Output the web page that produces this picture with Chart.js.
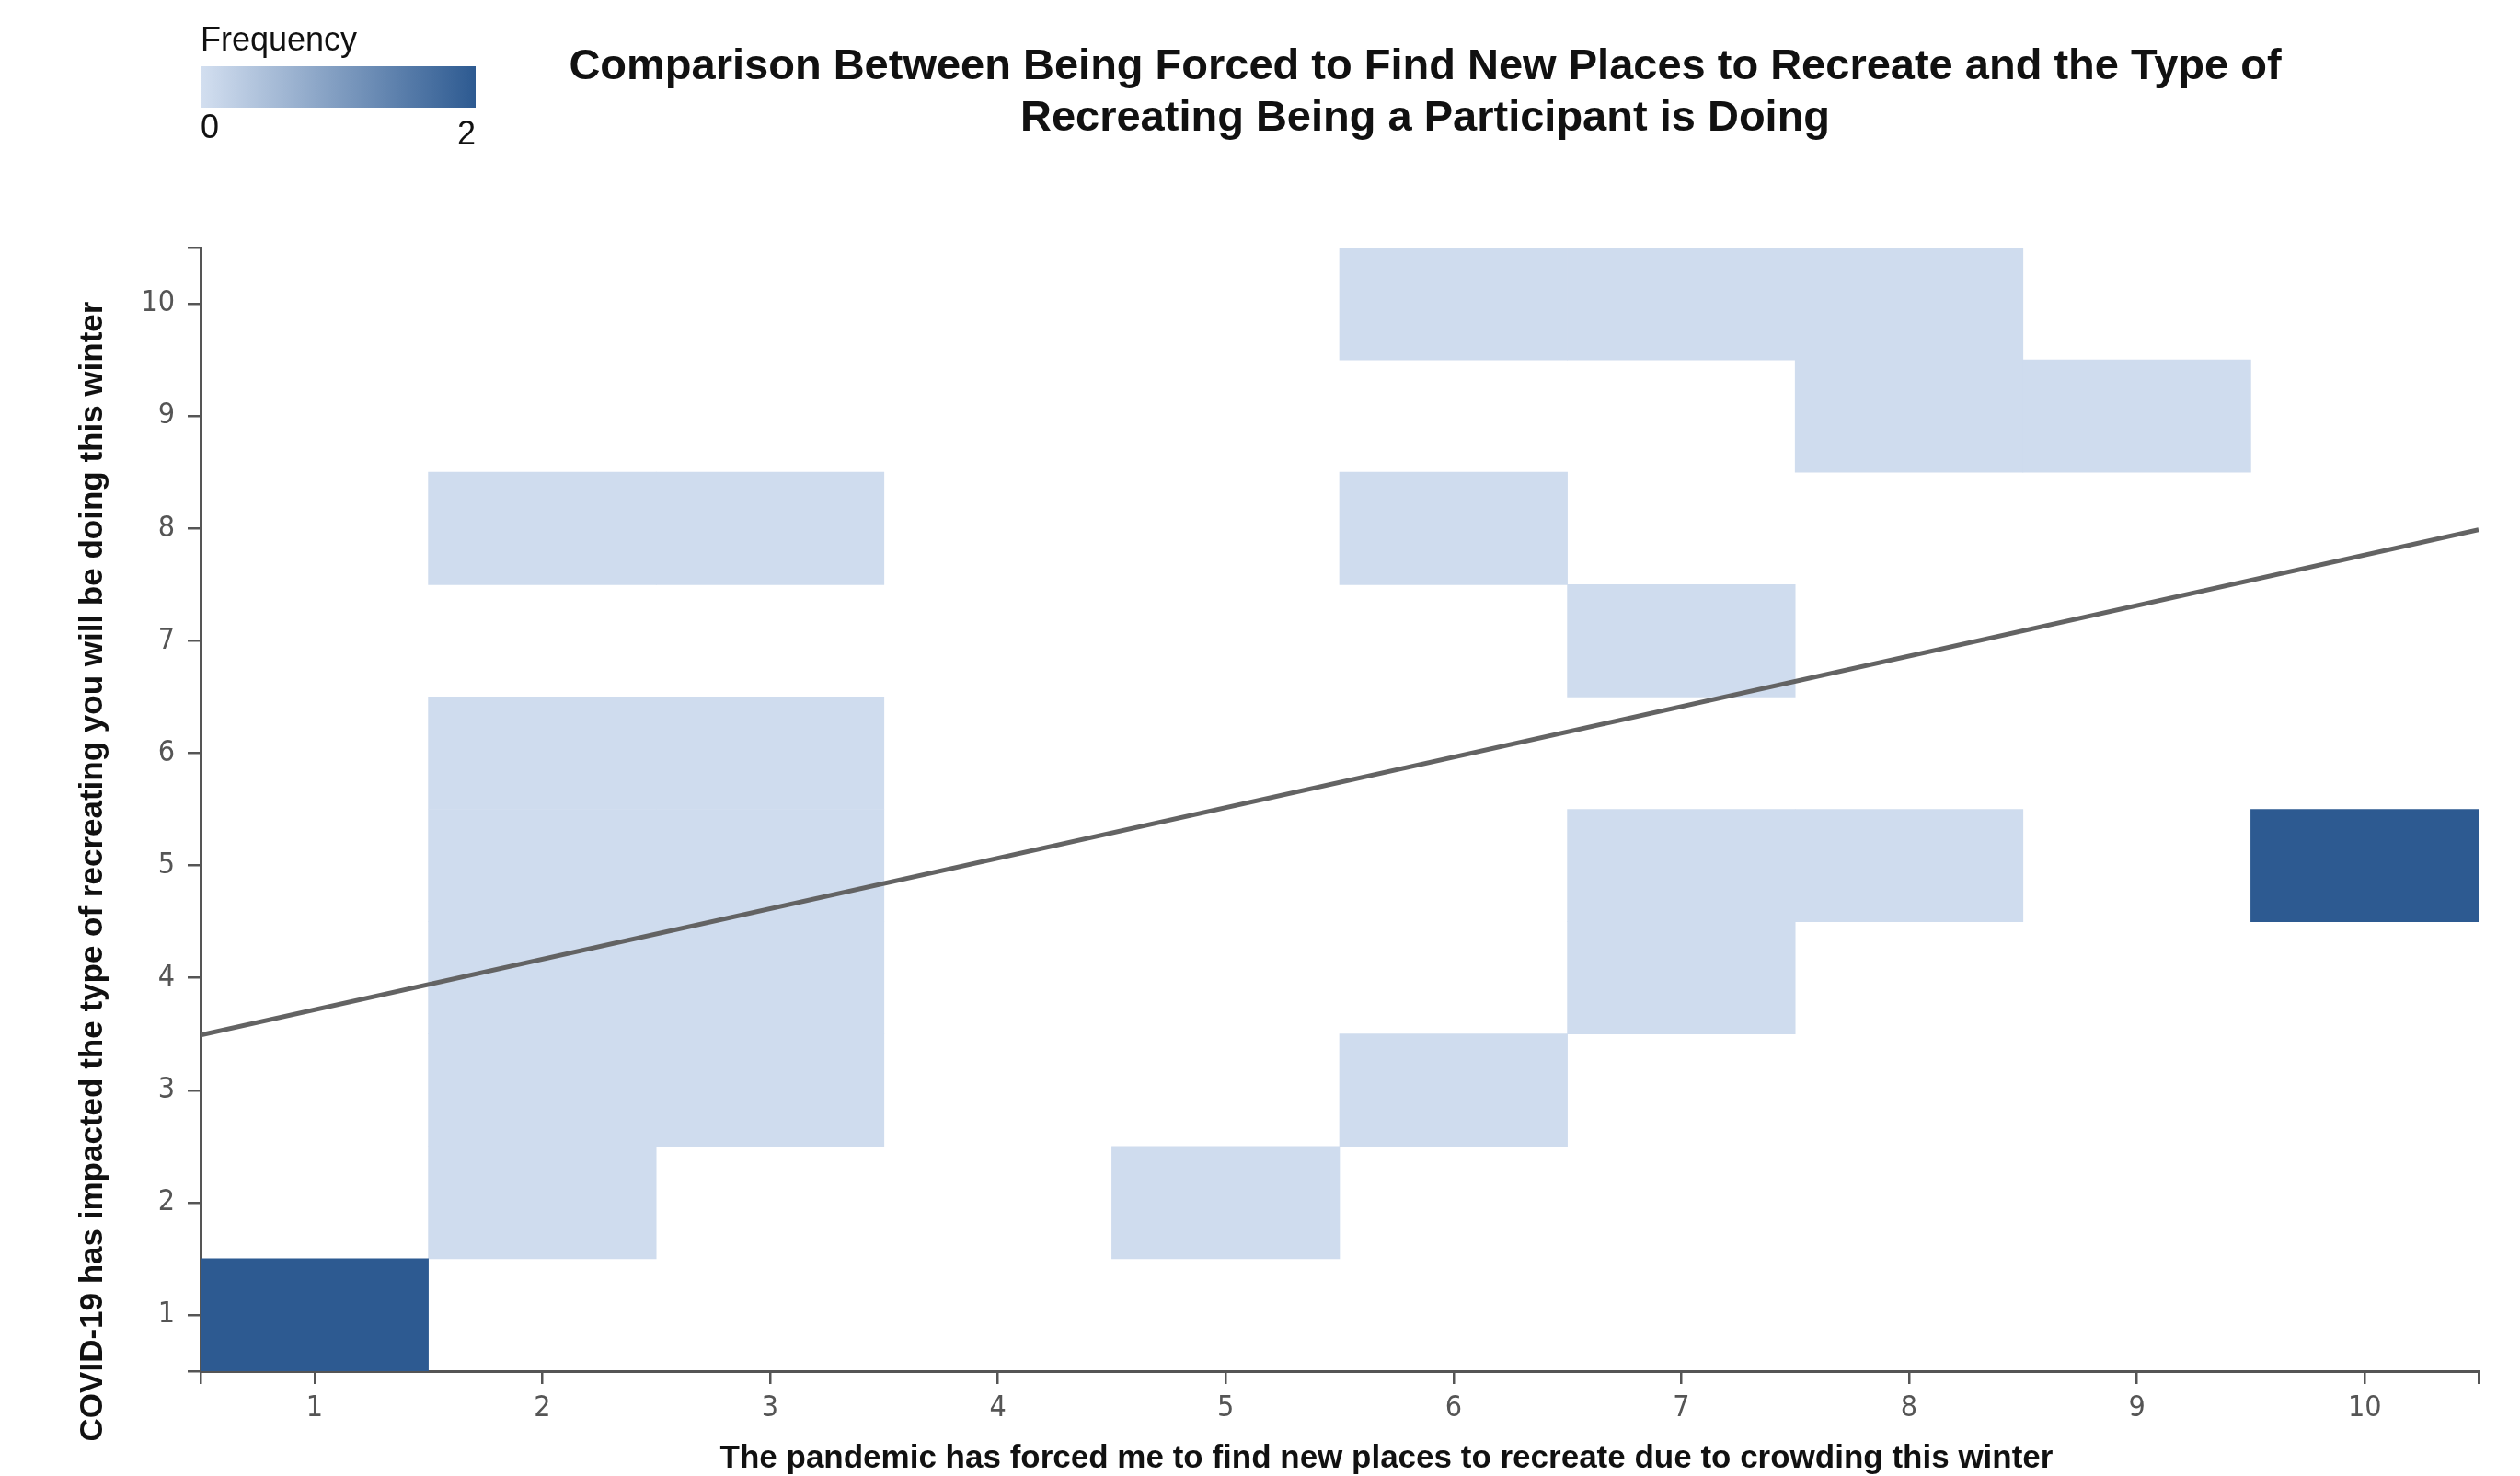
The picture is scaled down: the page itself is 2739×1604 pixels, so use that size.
<!DOCTYPE html>
<html>
<head>
<meta charset="utf-8">
<script src="https://cdn.jsdelivr.net/npm/chart.js@4.4.1/dist/chart.umd.min.js"></script>
<style>
  html, body { margin: 0; padding: 0; background: #fff; }
  canvas { display: block; }
</style>
</head>
<body>
<canvas id="chart" width="2739" height="1604"></canvas>
<script>
// answers on both questions (1-10 scale) and how many participants gave each pair
const xCategories = ['1', '2', '3', '4', '5', '6', '7', '8', '9', '10'];
const xTickValues = [1, 2, 3, 4, 5, 6, 7, 8, 9, 10];
const yTickValues = [1, 2, 3, 4, 5, 6, 7, 8, 9, 10];
const cellX     = [1, 2, 5, 2, 3, 6, 2, 3, 7, 2, 3, 7, 8, 10, 2, 3, 7, 2, 3, 6, 8, 9, 6, 7, 8];
const cellY     = [1, 2, 2, 3, 3, 3, 4, 4, 4, 5, 5, 5, 5, 5, 6, 6, 7, 8, 8, 8, 9, 9, 10, 10, 10];
const cellCount = [2, 1, 1, 1, 1, 1, 1, 1, 1, 1, 1, 1, 1, 2, 1, 1, 1, 1, 1, 1, 1, 1, 1, 1, 1];
const legendTicks = [0, 2];

const titleLines = [
  'Comparison Between Being Forced to Find New Places to Recreate and the Type of',
  'Recreating Being a Participant is Doing'
];
const xTitle = 'The pandemic has forced me to find new places to recreate due to crowding this winter';
const yTitle = 'COVID-19 has impacted the type of recreating you will be doing this winter';

const countColors = { 1: '#cfdcee', 2: '#2d5a91' };
const axisColor = '#555';
const tickFont = { family: '"DejaVu Sans Condensed", "DejaVu Sans", sans-serif', size: 32 };
const textFont = '"Liberation Sans", Arial, Helvetica, sans-serif';

// one floating-bar dataset per y row, each bar spans y-0.5 .. y+0.5
const rowDatasets = yTickValues.map(y => {
  const data = xCategories.map(() => null);
  const colors = xCategories.map(() => 'rgba(0,0,0,0)');
  cellX.forEach((x, i) => {
    if (cellY[i] !== y) return;
    const idx = xCategories.indexOf(String(x));
    data[idx] = [y - 0.5, y + 0.5];
    colors[idx] = countColors[cellCount[i]];
  });
  return {
    type: 'bar',
    data: data,
    backgroundColor: colors,
    borderWidth: 0,
    barPercentage: 1,
    categoryPercentage: 1,
    grouped: false,
    xAxisID: 'x',
    yAxisID: 'y',
    order: 1
  };
});

// least squares trend line, weighted by frequency
let n = 0, sx = 0, sy = 0, sxy = 0, sxx = 0;
cellX.forEach((x, i) => {
  const w = cellCount[i], y = cellY[i];
  n += w; sx += w * x; sy += w * y; sxy += w * x * y; sxx += w * x * x;
});
const slope = (n * sxy - sx * sy) / (n * sxx - sx * sx);
const intercept = (sy - slope * sx) / n;
const xRange = [0.5, 10.5];
const trendPoints = xRange.map(x => ({ x: x, y: intercept + slope * x }));

// titles and the colour legend sit outside the chart boxes, so draw them here
const decor = {
  id: 'decor',
  afterDraw(chart) {
    const ctx = chart.ctx;
    ctx.save();
    ctx.fillStyle = '#111';
    ctx.textBaseline = 'middle';

    // main title
    ctx.textAlign = 'center';
    ctx.font = 'bold 47px ' + textFont;
    titleLines.forEach((t, i) => ctx.fillText(t, 1549, 73 + i * 56));

    // x axis title
    ctx.font = 'bold 35px ' + textFont;
    ctx.fillText(xTitle, 1507, 1585);

    // y axis title
    ctx.save();
    ctx.translate(101, 947);
    ctx.rotate(-Math.PI / 2);
    ctx.fillText(yTitle, 0, 0);
    ctx.restore();

    // colour legend
    const g = ctx.createLinearGradient(218, 0, 517, 0);
    g.addColorStop(0, '#d3dff0');
    g.addColorStop(1, countColors[2]);
    ctx.fillStyle = g;
    ctx.fillRect(218, 72, 299, 45);
    ctx.fillStyle = '#111';
    ctx.font = '36px ' + textFont;
    ctx.textAlign = 'left';
    ctx.fillText('Frequency', 218, 45);
    ctx.fillText(String(legendTicks[0]), 218, 140);
    ctx.textAlign = 'right';
    ctx.fillText(String(legendTicks[1]), 517, 147);
    ctx.restore();
  }
};

const ctx = document.getElementById('chart').getContext('2d');
new Chart(ctx, {
  type: 'bar',
  data: {
    labels: xCategories,
    datasets: [
      ...rowDatasets,
      {
        type: 'line',
        data: trendPoints,
        borderColor: '#636363',
        borderWidth: 5,
        pointRadius: 0,
        xAxisID: 'x2',
        yAxisID: 'y',
        order: 0
      }
    ]
  },
  options: {
    responsive: false,
    animation: false,
    layout: { padding: { top: 269, right: 45, bottom: 0, left: 0 } },
    plugins: {
      legend: { display: false },
      tooltip: { enabled: false },
      title: { display: false }
    },
    scales: {
      x: { type: 'category', display: false, offset: true },
      x2: {
        type: 'linear',
        position: 'bottom',
        offset: false,
        min: xRange[0],
        max: xRange[1],
        afterBuildTicks: axis => {
          axis.ticks = [xRange[0], ...xTickValues, xRange[1]].map(v => ({ value: v }));
        },
        afterFit: axis => { axis.height = 114; },
        ticks: {
          callback: v => xTickValues.includes(v) ? String(v) : '',
          font: tickFont,
          color: axisColor,
          padding: 7,
          maxRotation: 0,
          autoSkip: false
        },
        grid: { offset: false, drawOnChartArea: false, drawTicks: true, tickLength: 14, color: axisColor, lineWidth: 2.5 },
        border: { display: true, color: axisColor, width: 3 }
      },
      y: {
        type: 'linear',
        min: 0.5,
        max: 10.5,
        afterBuildTicks: axis => {
          axis.ticks = [0.5, ...yTickValues, 10.5].map(v => ({ value: v }));
        },
        afterFit: axis => { axis.width = 218; },
        ticks: {
          callback: v => yTickValues.includes(v) ? String(v) : '',
          font: tickFont,
          color: axisColor,
          padding: 14,
          autoSkip: false
        },
        grid: { drawOnChartArea: false, drawTicks: true, tickLength: 14, color: axisColor, lineWidth: 2.5 },
        border: { display: true, color: axisColor, width: 3 }
      }
    }
  },
  plugins: [decor]
});
</script>
</body>
</html>
